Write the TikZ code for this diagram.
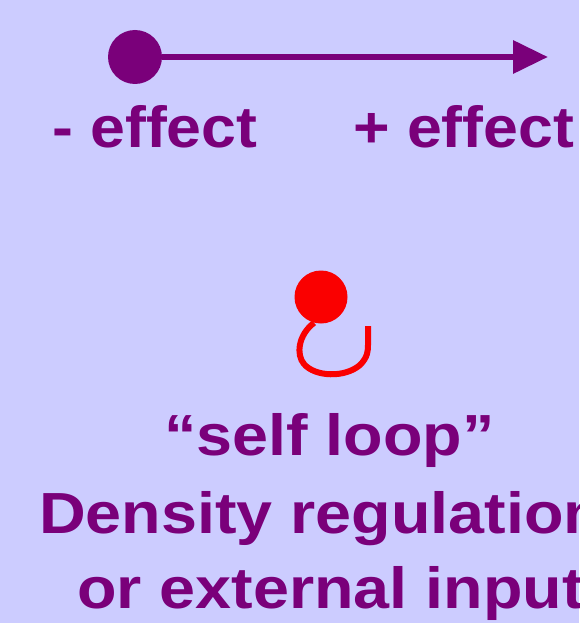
\documentclass[tikz,border=0pt]{standalone}
\usepackage{fontspec}
\setmainfont{Liberation Sans}[FakeStretch=1.08]
\newfontfamily\widefont{Liberation Sans}[FakeStretch=1.115]
\usetikzlibrary{arrows.meta}
\definecolor{bg}{RGB}{204,204,255}
\definecolor{ink}{RGB}{122,0,122}
\definecolor{redink}{RGB}{250,0,0}
\tikzset{
  lbl/.style={anchor=base west, inner sep=0pt, text=ink, font=\fontsize{58}{58}\selectfont\bfseries},
  widelbl/.style={lbl, font=\widefont\fontsize{58}{58}\selectfont\bfseries},
  dot/.style={circle, inner sep=0pt, minimum size=#1},
}
\begin{document}
\begin{tikzpicture}[x=1pt,y=-1pt]
\fill[bg] (0,0) rectangle (579,623);
\useasboundingbox (0,0) rectangle (579,623);
\clip (0,0) rectangle (579,623);
% effect legend
\node[dot=54pt, fill=ink] (neg) at (135,57) {};
\coordinate (tip) at (548,57);
\draw[ink, line width=6.5pt, -{Triangle[length=35pt,width=32pt]}] (neg.east) -- (tip);
\node[lbl] (negl) at (52,147) {- effect};
\node[lbl] (posl) at (353,147) {+ effect};
% self loop
\node[dot=53pt, fill=redink] (self) at (321,297) {};
\coordinate (loopend) at (368,326);
\draw[redink, line width=6pt] (self.255) .. controls (298,335) and (296,355) .. (304,364)
  .. controls (315,377) and (345,378) .. (360,365)
  .. controls (368,357) and (368,350) .. (368,345) -- (loopend);
\node[widelbl] (l1) at (164,455) {“self loop”};
\node[widelbl] (l2) at (39,533) {Density regulation};
\node[widelbl] (l3) at (77,608) {or external input};
\end{tikzpicture}
\end{document}
